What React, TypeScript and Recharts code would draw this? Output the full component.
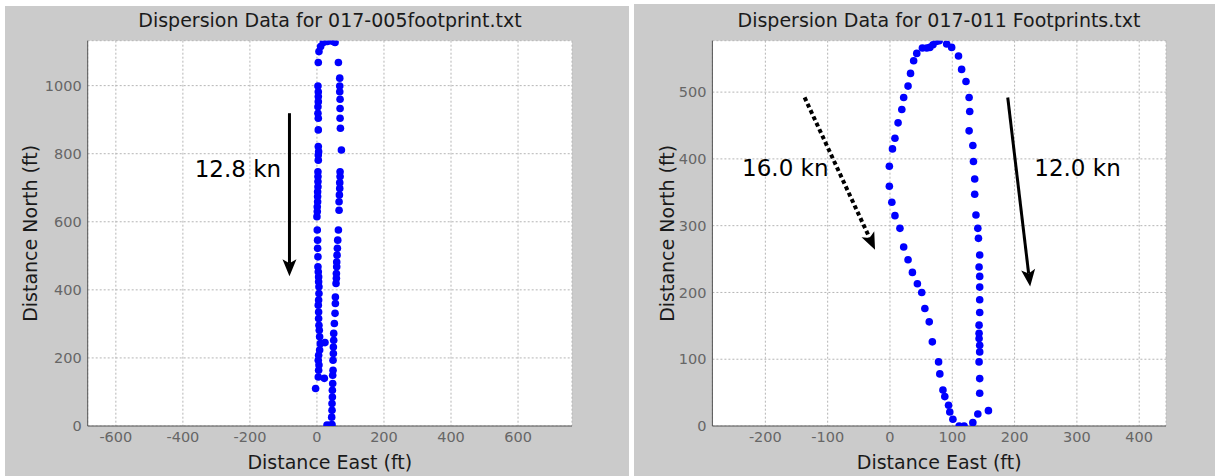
import React from "react";
import {
  ScatterChart,
  Scatter,
  XAxis,
  YAxis,
  CartesianGrid,
  ReferenceLine,
  ReferenceDot,
} from "recharts";

// 017-005 footprint track (ft)
const leftEast = [
  -4, 4, 22, 5, 6, 4, 5, 8, 10, 24, 8, 7, 6, 5, 5, 4, 5, 6, 6, 5, 5, 4, 3, 3, 2, 2, 1, 0, 1, 1, 2, 2, 2, 3, 3, 3, 3,
  4, 4, 5, 4, 4, 4, 3, 3, 4, 4, 4, 3, 4, 6,
  11, 19, 31, 41, 49, 54,
  64, 68, 68, 68, 69, 69, 69, 70, 73, 69, 69, 68, 68, 67, 66, 66, 64, 62, 61, 60, 59, 59, 58, 58, 57, 55, 55, 54,
  52, 50, 50, 49, 49, 48, 48, 47, 47, 46, 46, 45, 45, 44, 45, 38, 30,
];
const leftNorth = [
  110, 144, 140, 164, 179, 193, 208, 223, 242, 245, 262, 281, 296, 316, 335, 355, 370, 389, 409, 424, 438, 453, 468,
  497, 522, 546, 576, 615, 630, 644, 659, 674, 688, 703, 718, 733, 747, 781, 796, 806, 821, 870, 904, 919, 938, 953,
  968, 982, 999, 1068, 1100,
  1115, 1127, 1130, 1132, 1130, 1127,
  1068, 1022, 999, 982, 960, 933, 904, 875, 811, 747, 733, 715, 698, 679, 659, 634, 576, 546, 522, 502, 482, 468,
  448, 434, 419, 379, 360, 331, 301, 272, 252, 232, 213, 193, 164, 149, 125, 105, 85, 66, 46, 26, 4, 2, 3,
];

// 017-011 footprint track (ft)
const rightEast = [
  111, 101, 96, 94, 88, 85, 80, 78, 68, 63, 56, 51, 44, 36, 29, 22, 16, 8, 3, -1, -1, 4, 8, 13, 19, 22, 29, 33, 38,
  43, 52, 59, 64, 69, 75, 79,
  91, 99, 110, 115, 122, 127, 128, 127, 133, 134, 136, 136, 138, 141, 142, 144, 143, 144, 144, 144, 144, 143, 143,
  143, 144, 144, 143, 144, 144, 141, 133, 119, 158,
];
const rightNorth = [
  0, 10, 21, 31, 44, 54, 78, 96, 126, 156, 176, 200, 213, 230, 249, 268, 296, 315, 335, 359, 389, 415, 431, 454, 474,
  492, 509, 528, 547, 558, 566, 566, 567, 571, 576, 577,
  572, 567, 554, 534, 516, 492, 471, 442, 420, 396, 370, 347, 316, 296, 281, 256, 238, 224, 208, 189, 170, 151, 139,
  131, 121, 111, 96, 71, 49, 18, 5, 0, 23,
];

const leftXTicks = [-600, -400, -200, 0, 200, 400, 600];
const leftYTicks = [0, 200, 400, 600, 800, 1000];
const rightXTicks = [-200, -100, 0, 100, 200, 300, 400];
const rightYTicks = [0, 100, 200, 300, 400, 500];

const FONT = "'DejaVu Sans', sans-serif";
const BLUE = "#0000ff";

const zip = (xs: number[], ys: number[]) => xs.map((x, i) => ({ x, y: ys[i] }));

const Dot = (p: any) => <circle cx={p.cx} cy={p.cy} r={3.8} fill={BLUE} />;

const makeArrow = (dashed: boolean) => (p: any) => {
  const { x1, y1, x2, y2 } = p;
  const dx = x2 - x1;
  const dy = y2 - y1;
  const len = Math.hypot(dx, dy);
  const ux = dx / len;
  const uy = dy / len;
  const head = 17;
  const half = 7;
  const bx = x2 - ux * head;
  const by = y2 - uy * head;
  const nx = x2 - ux * (head - 4);
  const ny = y2 - uy * (head - 4);
  const px = -uy;
  const py = ux;
  const pts = `${x2},${y2} ${bx + px * half},${by + py * half} ${nx},${ny} ${bx - px * half},${by - py * half}`;
  return (
    <g>
      <line
        x1={x1}
        y1={y1}
        x2={nx}
        y2={ny}
        stroke="#000"
        strokeWidth={dashed ? 4 : 3}
        strokeDasharray={dashed ? "4 3" : undefined}
      />
      <polygon points={pts} fill="#000" />
    </g>
  );
};

const speedLabel = (text: string) => (p: any) => (
  <text x={p.cx} y={p.cy + 8} textAnchor="middle" fontFamily={FONT} fontSize={23} fill="#000">
    {text}
  </text>
);

type Arrow = { from: [number, number]; to: [number, number]; dashed: boolean };
type Note = { at: [number, number]; text: string };

type PanelProps = {
  left: number;
  top: number;
  width: number;
  height: number;
  margin: { top: number; right: number; left: number; bottom: number };
  yAxisWidth: number;
  title: string;
  titleCenter: number;
  titleTop: number;
  xDomain: [number, number];
  yDomain: [number, number];
  xTicks: number[];
  yTicks: number[];
  data: { x: number; y: number }[];
  arrows: Arrow[];
  notes: Note[];
  yLabelX: number;
};

function Panel(props: PanelProps) {
  const { margin } = props;
  return (
    <div
      style={{
        position: "absolute",
        left: props.left,
        top: props.top,
        width: props.width,
        height: props.height,
        background: "#cbcbcb",
      }}
    >
      <div
        style={{
          position: "absolute",
          left: props.titleCenter - 250,
          width: 500,
          top: props.titleTop,
          textAlign: "center",
          fontFamily: FONT,
          fontSize: 19,
          lineHeight: "19px",
          color: "#1a1a1a",
          whiteSpace: "nowrap",
        }}
      >
        {props.title}
      </div>
      <ScatterChart width={props.width} height={props.height} margin={margin}>
        <CartesianGrid fill="#ffffff" stroke="#b5b5b5" strokeDasharray="2 2" />
        <XAxis
          type="number"
          dataKey="x"
          domain={props.xDomain}
          ticks={props.xTicks}
          allowDataOverflow
          height={50}
          tickSize={0}
          tickMargin={6}
          stroke="#555"
          tick={{ fill: "#666", fontSize: 14.5, fontFamily: FONT }}
          label={{
            content: (lp: any) => (
              <text
                x={lp.viewBox.x + lp.viewBox.width / 2}
                y={lp.viewBox.y + 43}
                textAnchor="middle"
                fontFamily={FONT}
                fontSize={19}
                fill="#1a1a1a"
              >
                Distance East (ft)
              </text>
            ),
          }}
        />
        <YAxis
          type="number"
          dataKey="y"
          domain={props.yDomain}
          ticks={props.yTicks}
          allowDataOverflow
          width={props.yAxisWidth}
          tickSize={0}
          tickMargin={6}
          stroke="#555"
          tick={{ fill: "#666", fontSize: 14.5, fontFamily: FONT }}
          label={{
            content: (lp: any) => {
              const cx = props.yLabelX;
              const cy = lp.viewBox.y + lp.viewBox.height / 2;
              return (
                <text
                  x={cx}
                  y={cy}
                  transform={`rotate(-90 ${cx} ${cy})`}
                  textAnchor="middle"
                  fontFamily={FONT}
                  fontSize={19}
                  fill="#1a1a1a"
                >
                  Distance North (ft)
                </text>
              );
            },
          }}
        />
        {props.arrows.map((a, i) => (
          <ReferenceLine
            key={`a${i}`}
            segment={[
              { x: a.from[0], y: a.from[1] },
              { x: a.to[0], y: a.to[1] },
            ]}
            ifOverflow="visible"
            shape={makeArrow(a.dashed)}
          />
        ))}
        {props.notes.map((n, i) => (
          <ReferenceDot
            key={`n${i}`}
            x={n.at[0]}
            y={n.at[1]}
            r={0}
            ifOverflow="visible"
            shape={speedLabel(n.text)}
          />
        ))}
        <Scatter data={props.data} isAnimationActive={false} shape={Dot} />
      </ScatterChart>
    </div>
  );
}

export default function App() {
  return (
    <div
      style={{
        position: "absolute",
        left: 0,
        top: 0,
        width: 1215,
        height: 476,
        background: "#ffffff",
        overflow: "hidden",
      }}
    >
      <Panel
        left={5}
        top={6}
        width={624}
        height={470}
        margin={{ top: 34.7, right: 57, left: 0, bottom: 0 }}
        yAxisWidth={82.7}
        title="Dispersion Data for 017-005footprint.txt"
        titleCenter={325}
        titleTop={5}
        xDomain={[-684, 761]}
        yDomain={[0, 1132]}
        xTicks={leftXTicks}
        yTicks={leftYTicks}
        data={zip(leftEast, leftNorth)}
        arrows={[{ from: [-82, 919], to: [-82, 440], dashed: false }]}
        notes={[{ at: [-236, 755], text: "12.8 kn" }]}
        yLabelX={32}
      />
      <Panel
        left={634}
        top={4}
        width={581}
        height={472}
        margin={{ top: 36.7, right: 49, left: 0, bottom: 0 }}
        yAxisWidth={78.4}
        title="Dispersion Data for 017-011 Footprints.txt"
        titleCenter={305}
        titleTop={7}
        xDomain={[-285, 443]}
        yDomain={[0, 577]}
        xTicks={rightXTicks}
        yTicks={rightYTicks}
        data={zip(rightEast, rightNorth)}
        arrows={[
          { from: [-137, 492], to: [-24, 264], dashed: true },
          { from: [189, 492], to: [225, 209], dashed: false },
        ]}
        notes={[
          { at: [-168, 387], text: "16.0 kn" },
          { at: [301, 387], text: "12.0 kn" },
        ]}
        yLabelX={40}
      />
    </div>
  );
}
